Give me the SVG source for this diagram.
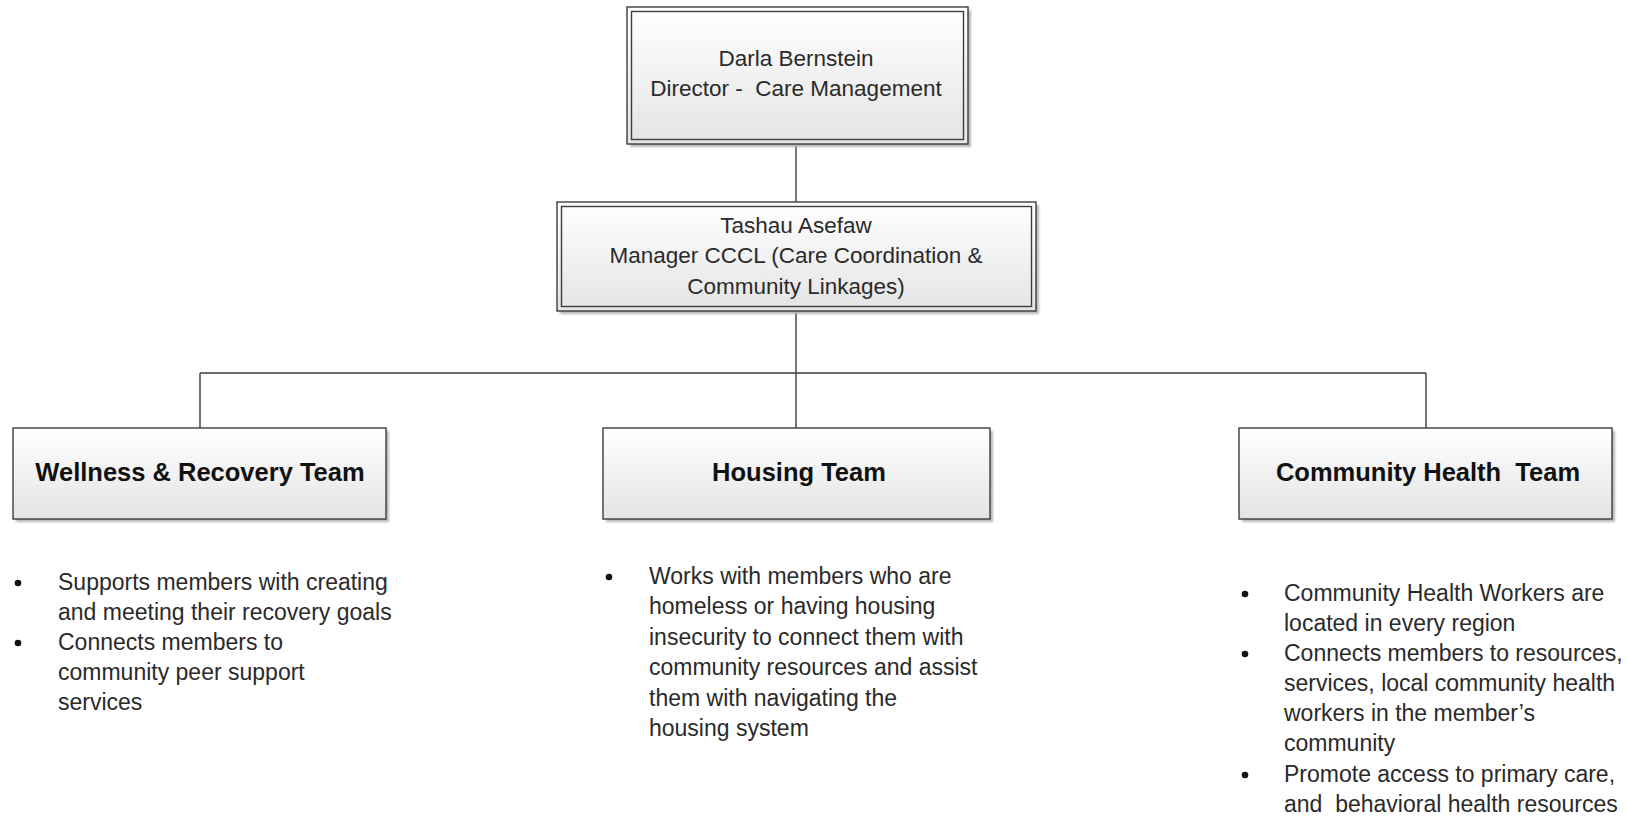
<svg xmlns="http://www.w3.org/2000/svg" width="1627" height="817" viewBox="0 0 1627 817">
  <defs>
    <linearGradient id="boxFill" x1="0" y1="0" x2="0" y2="1">
      <stop offset="0" stop-color="#ffffff"/>
      <stop offset="1" stop-color="#e4e4e4"/>
    </linearGradient>
    <filter id="soft" x="-5%" y="-5%" width="110%" height="115%">
      <feGaussianBlur stdDeviation="1.2"/>
    </filter>
  </defs>
  <style>
    .shadow { fill: #b8b8b8; filter: url(#soft); }
    .box { fill: url(#boxFill); stroke: #3d3d3d; stroke-width: 1.4; }
    .inner { fill: none; stroke: #3d3d3d; stroke-width: 1.4; }
    .link { fill: none; stroke: #3d3d3d; stroke-width: 1.4; }
    .name { font-family: "Liberation Sans", Arial, sans-serif; font-size: 22.5px; fill: #2a2a2a; text-anchor: middle; }
    .title { font-family: "Liberation Sans", Arial, sans-serif; font-size: 25.5px; font-weight: bold; fill: #111111; text-anchor: middle; white-space: pre; }
    .body { font-family: "Liberation Sans", Arial, sans-serif; font-size: 23px; fill: #2a2a2a; white-space: pre; }
    .dot { fill: #111111; }
  </style>

  <rect width="1627" height="817" fill="#ffffff"/>

  <!-- connectors -->
  <g id="connectors">
    <line class="link" x1="796" y1="144" x2="796" y2="202"/>
    <line class="link" x1="796" y1="311" x2="796" y2="373"/>
    <line class="link" x1="200" y1="373" x2="1426" y2="373"/>
    <line class="link" x1="200" y1="373" x2="200" y2="428"/>
    <line class="link" x1="796" y1="373" x2="796" y2="428"/>
    <line class="link" x1="1426" y1="373" x2="1426" y2="428"/>
  </g>

  <!-- director -->
  <g id="director">
    <rect class="shadow" x="630" y="10" width="341" height="137"/>
    <rect class="box" x="627" y="7" width="341" height="137"/>
    <rect class="inner" x="631.5" y="11.5" width="332" height="128"/>
    <text class="name" x="796" y="66">Darla Bernstein</text>
    <text class="name" x="796" y="96" xml:space="preserve">Director -  Care Management</text>
  </g>

  <!-- manager -->
  <g id="manager">
    <rect class="shadow" x="560" y="205" width="479" height="109"/>
    <rect class="box" x="557" y="202" width="479" height="109"/>
    <rect class="inner" x="561.5" y="206.5" width="470" height="100"/>
    <text class="name" x="796" y="233">Tashau Asefaw</text>
    <text class="name" x="796" y="263">Manager CCCL (Care Coordination &amp;</text>
    <text class="name" x="796" y="294">Community Linkages)</text>
  </g>

  <!-- wellness team -->
  <g id="wellness-team">
    <rect class="shadow" x="16" y="431" width="373" height="91"/>
    <rect class="box" x="13" y="428" width="373" height="91"/>
    <text class="title" x="200" y="481">Wellness &amp; Recovery Team</text>
  </g>

  <!-- housing team -->
  <g id="housing-team">
    <rect class="shadow" x="606" y="431" width="387" height="91"/>
    <rect class="box" x="603" y="428" width="387" height="91"/>
    <text class="title" x="799" y="481">Housing Team</text>
  </g>

  <!-- community health team -->
  <g id="community-team">
    <rect class="shadow" x="1242" y="431" width="373" height="91"/>
    <rect class="box" x="1239" y="428" width="373" height="91"/>
    <text class="title" x="1428" y="481" xml:space="preserve">Community Health  Team</text>
  </g>

  <!-- wellness notes -->
  <g id="wellness-notes">
    <circle class="dot" cx="18" cy="583" r="3.3"/>
    <circle class="dot" cx="18" cy="643" r="3.3"/>
    <text class="body" x="58" y="590">Supports members with creating</text>
    <text class="body" x="58" y="620">and meeting their recovery goals</text>
    <text class="body" x="58" y="650">Connects members to</text>
    <text class="body" x="58" y="680">community peer support</text>
    <text class="body" x="58" y="710">services</text>
  </g>

  <!-- housing notes -->
  <g id="housing-notes">
    <circle class="dot" cx="609" cy="577" r="3.3"/>
    <text class="body" x="649" y="584">Works with members who are</text>
    <text class="body" x="649" y="614">homeless or having housing</text>
    <text class="body" x="649" y="645">insecurity to connect them with</text>
    <text class="body" x="649" y="675">community resources and assist</text>
    <text class="body" x="649" y="706">them with navigating the</text>
    <text class="body" x="649" y="736">housing system</text>
  </g>

  <!-- community health notes -->
  <g id="community-notes">
    <circle class="dot" cx="1245" cy="594" r="3.3"/>
    <circle class="dot" cx="1245" cy="654" r="3.3"/>
    <circle class="dot" cx="1245" cy="775" r="3.3"/>
    <text class="body" x="1284" y="601">Community Health Workers are</text>
    <text class="body" x="1284" y="631">located in every region</text>
    <text class="body" x="1284" y="661">Connects members to resources,</text>
    <text class="body" x="1284" y="691">services, local community health</text>
    <text class="body" x="1284" y="721">workers in the member’s</text>
    <text class="body" x="1284" y="751">community</text>
    <text class="body" x="1284" y="782">Promote access to primary care,</text>
    <text class="body" x="1284" y="812">and  behavioral health resources</text>
  </g>
</svg>
